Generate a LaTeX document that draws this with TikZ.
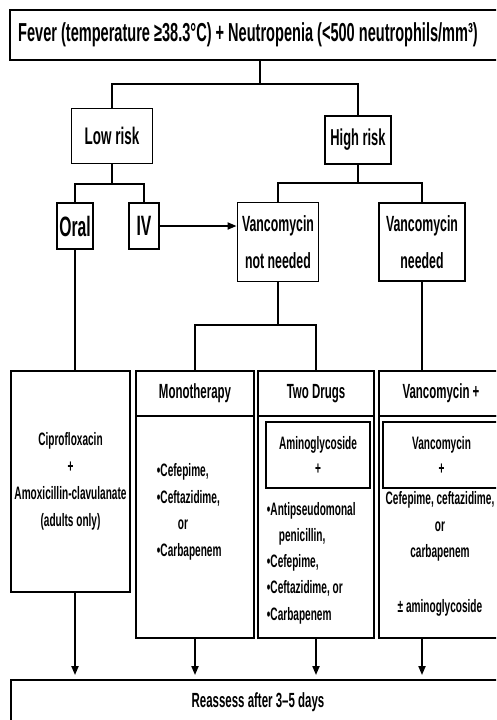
\documentclass[tikz,border=0pt]{standalone}
\usepackage{fontspec}
\setmainfont{Liberation Sans}
\newfontfamily\narrowfont{Liberation Sans}[FakeStretch=0.56]
\usetikzlibrary{arrows.meta}
\newcommand{\fsz}[2]{\narrowfont\bfseries\fontsize{#1}{#2}\selectfont}

\begin{document}
\begin{tikzpicture}[x=1pt,y=-1pt,line width=1.9pt,
  >={Triangle[length=9pt,width=7pt]},
  box/.style={draw,inner sep=0pt,align=center},
  txt/.style={inner sep=0pt,align=center},
  arr/.style={->,shorten >=4pt}]

\useasboundingbox (0,0) rectangle (496,720);
\clip (0,0) rectangle (496,720);

\node[box,minimum width=495,minimum height=50] (fever) at (257.5,35) {};
\node[txt,font=\fsz{26}{30}] (fevertxt) at (248,35) {Fever (temperature ≥38.3°C) + Neutropenia (<500 neutrophils/mm³)};

\node[box,minimum width=81,minimum height=55,font=\fsz{24}{30}] (low) at (112,136) {Low risk};
\node[box,minimum width=66,minimum height=48,font=\fsz{23}{30}] (high) at (358,140) {High risk};

\node[box,minimum width=36,minimum height=46,font=\fsz{28}{30}] (oral) at (75,226) {Oral};
\node[box,minimum width=30,minimum height=46,font=\fsz{28}{30}] (iv) at (144,226) {IV};

\node[box,minimum width=81,minimum height=79,font=\fsz{22}{37}] (vnot) at (278,242) {Vancomycin\\not needed};
\node[box,minimum width=86,minimum height=78,font=\fsz{22}{37}] (vneed) at (422,242) {Vancomycin\\needed};

%%%%%%%%%%%%%%%%%%%%%%%%%%%%%%%%%%%%%%
\node[box,minimum width=119,minimum height=221,font=\fsz{18}{27}] (cipro) at (70.5,481.5) {Ciprofloxacin\\+\\Amoxicillin-clavulanate\\(adults only)};

\node[box,minimum width=118,minimum height=45,font=\fsz{20.5}{26}] (monohead) at (195,393.5) {Monotherapy};
\node[box,minimum width=118,minimum height=222] (monobody) at (195,527) {};
\node[txt,align=left,anchor=west,font=\fsz{18}{26.5}] (monotxt) at (156,512) {•Cefepime,\\•Ceftazidime,\\\hspace*{21pt}or\\•Carbapenem};

\node[box,minimum width=116,minimum height=45,font=\fsz{20.5}{26}] (twohead) at (316,393.5) {Two Drugs};
\node[box,minimum width=116,minimum height=222] (twobody) at (316,527) {};
\node[box,minimum width=104,minimum height=66,font=\fsz{18}{25}] (amino) at (318,455) {Aminoglycoside\\+};
\node[txt,align=left,anchor=west,font=\fsz{18}{26.3}] (twotxt) at (266,563) {•Antipseudomonal\\\hspace*{12pt}penicillin,\\•Cefepime,\\•Ceftazidime, or\\•Carbapenem};

\node[box,minimum width=124,minimum height=45,font=\fsz{20.5}{26}] (vplushead) at (441,393.5) {Vancomycin +};
\node[box,minimum width=124,minimum height=222] (vplusbody) at (441,527) {};
\node[box,minimum width=117,minimum height=66,font=\fsz{18}{25}] (vanc) at (441.5,455) {Vancomycin\\+};
\node[txt,font=\fsz{18}{26.5}] (vplustxt) at (440,554) {Cefepime, ceftazidime,\\or\\carbapenem\\[28pt]± aminoglycoside};

\node[box,minimum width=494,minimum height=44,font=\fsz{20.5}{26}] (reassess) at (258,702) {Reassess after 3–5 days};

%%%%%%%%%%%%%%%%%%%%%%%%%%%%%%%%%%%%%%
\coordinate (j1) at (260,84);
\coordinate (j2) at (112,184);
\coordinate (j3) at (358,183);
\coordinate (j4) at (278,325);

\draw (j1 |- fever.south) -- (j1);
\draw (low.north) |- (j1) -| (high.north);
\draw (low.south) -- (j2);
\draw (oral.north) |- (j2) -| (iv.north);
\draw[->] (iv.east) -- (iv.east -| vnot.west);
\draw (high.south) -- (j3);
\draw (vnot.north) |- (j3) -| (vneed.north);

\draw (oral.south) -- (oral.south |- cipro.north);
\draw (vnot.south) -- (j4);
\draw (monohead.north) |- (j4) -| (twohead.north);
\draw (vneed.south) -- (vneed.south |- vplushead.north);

\draw[arr] (oral.south |- cipro.south) -- (oral.south |- reassess.north);
\draw[arr] (monobody.south) -- (monobody.south |- reassess.north);
\draw[arr] (twobody.south) -- (twobody.south |- reassess.north);
\draw[arr] (vneed.south |- vplusbody.south) -- (vneed.south |- reassess.north);

\end{tikzpicture}
\end{document}
